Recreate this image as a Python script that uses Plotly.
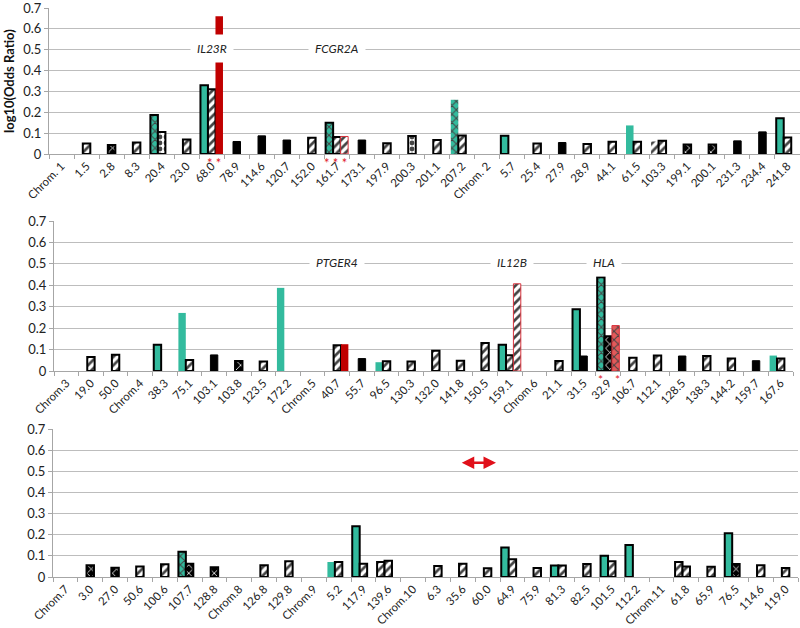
import plotly.graph_objects as go

# ---------------- data ----------------
CATS1 = ["Chrom. 1", "1.5", "2.8", "8.3", "20.4", "23.0", "68.0", "78.9", "114.6", "120.7",
         "152.0", "161.7", "173.1", "197.9", "200.3", "201.1", "207.2", "Chrom. 2", "5.7", "25.4",
         "27.9", "28.9", "44.1", "61.5", "103.3", "199.1", "200.1", "231.3", "234.4", "241.8"]
TEAL1 = [None, None, None, None, 0.187, None, 0.33, None, None, None,
         None, 0.15, None, None, None, None, 0.26, None, 0.087, None,
         None, None, None, 0.137, 0.06, None, None, None, None, 0.171]
BLACK1 = [None, 0.05, 0.043, 0.055, 0.106, 0.07, 0.31, 0.06, 0.087, 0.067,
          0.078, 0.081, 0.067, 0.051, 0.086, 0.067, 0.089, None, None, 0.05,
          0.055, 0.048, 0.059, 0.059, 0.064, 0.045, 0.045, 0.063, 0.106, 0.079]
RED1 = [None] * 6 + [0.66] + [None] * 4 + [0.084] + [None] * 18

CATS2 = ["Chrom.3", "19.0", "50.0", "Chrom.4", "38.3", "75.1", "103.1", "103.8", "123.5", "172.2",
         "Chrom.5", "40.7", "55.7", "96.5", "130.3", "132.0", "141.8", "150.5", "159.1", "Chrom.6",
         "21.1", "31.5", "32.9", "106.7", "112.1", "128.5", "138.3", "144.2", "159.7", "167.6"]
TEAL2 = [None, None, None, None, 0.122, 0.271, None, None, None, 0.388,
         None, None, None, 0.041, None, None, None, None, 0.123, None,
         None, 0.288, 0.437, None, None, None, None, None, None, 0.072]
BLACK2 = [None, 0.065, 0.076, None, None, 0.051, 0.075, 0.047, 0.044, None,
          None, 0.12, 0.058, 0.045, 0.044, 0.094, 0.048, 0.131, 0.073, None,
          0.047, 0.07, 0.162, 0.062, 0.072, 0.07, 0.07, 0.058, 0.048, 0.058]
RED2 = [None] * 11 + [0.125] + [None] * 6 + [0.407] + [None] * 3 + [0.212] + [None] * 7

CATS3 = ["Chrom.7", "3.0", "27.0", "50.6", "100.6", "107.7", "128.8", "Chrom.8", "126.8", "129.8",
         "Chrom.9", "5.2", "117.9", "139.6", "Chrom.10", "6.3", "35.6", "60.0", "64.9", "75.9",
         "81.3", "82.5", "101.5", "112.2", "Chrom.11", "61.8", "65.9", "76.5", "114.6", "119.0"]
TEAL3 = [None, None, None, None, None, 0.12, None, None, None, None,
         None, 0.071, 0.24, 0.071, None, None, None, None, 0.14, None,
         0.054, None, 0.101, 0.151, None, 0.071, None, 0.207, None, None]
BLACK3 = [None, 0.055, 0.044, 0.05, 0.06, 0.063, 0.046, None, 0.055, 0.074,
          None, 0.071, 0.063, 0.077, None, 0.052, 0.063, 0.041, 0.084, 0.043,
          0.054, 0.062, 0.074, None, None, 0.05, 0.049, 0.062, 0.055, 0.043]
RED3 = [None] * 30

# ---------------- styles (separate from data) ----------------
# codes: s=solid, so=solid outlined, h=hatch, ho=hatch outlined, x=cross, xo=cross outlined, d=dots
TEAL_STYLE1 = {4: "xo", 6: "so", 11: "xo", 16: "x", 18: "so", 23: "s", 24: "h", 29: "so"}
BLACK_STYLE1 = {2: "x", 4: "d", 7: "s", 8: "s", 9: "s", 12: "s", 14: "d", 20: "s",
                25: "x", 26: "x", 27: "s", 28: "s"}
RED_STYLE1 = {6: "s", 11: "h"}
TEAL_STYLE2 = {4: "so", 5: "s", 9: "s", 13: "s", 18: "so", 21: "so", 22: "xo", 29: "s"}
BLACK_STYLE2 = {6: "s", 7: "x", 12: "s", 21: "s", 22: "x", 25: "s", 28: "s"}
RED_STYLE2 = {11: "s", 18: "h", 22: "x"}
TEAL_STYLE3 = {5: "xo", 11: "s", 12: "so", 13: "ho", 18: "so", 20: "so", 22: "so",
               23: "so", 25: "ho", 27: "so"}
BLACK_STYLE3 = {1: "x", 2: "x", 5: "x", 6: "x", 27: "x"}
RED_STYLE3 = {}

TEAL = "#33BB9E"
BLACK = "#000000"
RED = "#C00000"
RED_LIGHT = "#D8323C"
RED_PINK = "#E25A5A"


def style(series, code):
    # returns bg, shape, fg, solidity, line color, line width
    if series == "teal":
        base = TEAL
        if code == "s":
            return base, "", base, 0.3, base, 0
        if code == "so":
            return base, "", base, 0.3, BLACK, 2
        if code == "x":
            return base, "x", "#E8FFF8", 0.3, base, 0
        if code == "xo":
            return base, "x", "#E8FFF8", 0.3, BLACK, 2
        if code == "h":
            return "#FFFFFF", "/", base, 0.45, base, 0
        if code == "ho":
            return "#FFFFFF", "/", base, 0.45, BLACK, 2
    if series == "black":
        if code == "s":
            return BLACK, "", BLACK, 0.3, BLACK, 1
        if code == "x":
            return BLACK, "x", "#FFFFFF", 0.25, BLACK, 2
        if code == "d":
            return "#FFFFFF", ".", BLACK, 0.5, BLACK, 2
        return "#FFFFFF", "/", BLACK, 0.45, BLACK, 2
    if series == "red":
        if code == "s":
            return RED, "", RED, 0.3, RED, 0
        if code == "x":
            return RED_PINK, "x", "#FFD0D0", 0.3, RED_LIGHT, 1
        return "#FFFFFF", "/", RED_LIGHT, 0.45, RED_LIGHT, 1
    return BLACK, "", BLACK, 0.3, BLACK, 0


def bar_trace(cats, vals, styles, series, default, xa, ya):
    bgs, shapes, fgs, sols, lcs, lws = [], [], [], [], [], []
    for i, v in enumerate(vals):
        code = styles.get(i, default)
        bg, sh, fg, so, lc, lw = style(series, code)
        bgs.append(bg); shapes.append(sh); fgs.append(fg); sols.append(so)
        lcs.append(lc); lws.append(lw)
    return go.Bar(
        x=cats, y=vals, xaxis=xa, yaxis=ya, showlegend=False, hoverinfo="x+y",
        marker=dict(color=bgs, line=dict(color=lcs, width=lws),
                    pattern=dict(shape=shapes, fgcolor=fgs, fgopacity=1,
                                 solidity=sols, size=6, fillmode="overlay")),
    )


fig = go.Figure()
panels = [
    (CATS1, TEAL1, BLACK1, RED1, TEAL_STYLE1, BLACK_STYLE1, RED_STYLE1, "x", "y"),
    (CATS2, TEAL2, BLACK2, RED2, TEAL_STYLE2, BLACK_STYLE2, RED_STYLE2, "x2", "y2"),
    (CATS3, TEAL3, BLACK3, RED3, TEAL_STYLE3, BLACK_STYLE3, RED_STYLE3, "x3", "y3"),
]
for cats, t, b, r, ts, bs, rs, xa, ya in panels:
    fig.add_trace(bar_trace(cats, t, ts, "teal", "s", xa, ya))
    fig.add_trace(bar_trace(cats, b, bs, "black", "h", xa, ya))
    fig.add_trace(bar_trace(cats, r, rs, "red", "s", xa, ya))

FONT = "Lato, 'Open Sans', sans-serif"
GRID = "#BDBDBD"
H = 628.0
W = 800.0


def xax(x0, x1, anchor, cats):
    return dict(domain=[x0 / W, x1 / W], anchor=anchor, type="category",
                categoryorder="array", categoryarray=cats,
                range=[-0.5, len(cats) - 0.5], automargin=False,
                showline=True, linecolor="#A6A6A6", linewidth=1,
                ticks="outside", tickson="boundaries", ticklen=4, tickcolor="#A6A6A6",
                tickangle=-45, tickfont=dict(family=FONT, size=11.5, color="#222222"),
                showgrid=False, zeroline=False, fixedrange=True,
                ticklabeloverflow="allow")


def yax(ytop, ybot, anchor):
    return dict(domain=[(H - ybot) / H, (H - ytop) / H], anchor=anchor, automargin=False,
                range=[0, 0.7], dtick=0.1, showgrid=True, gridcolor=GRID, gridwidth=1,
                showline=True, linecolor="#A6A6A6", ticks="outside", ticklen=4,
                tickcolor="#A6A6A6", zeroline=False, ticklabeloverflow="allow",
                tickfont=dict(family=FONT, size=13, color="#222222"), fixedrange=True)


fig.update_layout(
    width=800, height=628, margin=dict(l=0, r=0, t=0, b=0, autoexpand=False),
    paper_bgcolor="white", plot_bgcolor="white",
    barmode="group", bargap=0.1, bargroupgap=0,
    font=dict(family=FONT, size=12, color="#222222"),
    xaxis=xax(49, 800, "y", CATS1), yaxis=yax(8, 154, "x"),
    xaxis2=xax(54, 793, "y2", CATS2), yaxis2=yax(221, 371, "x2"),
    xaxis3=xax(53, 798, "y3", CATS3), yaxis3=yax(429, 577, "x3"),
)

ann = []


def gene(text, cats, cat, xref, yref, xshift=0):
    ann.append(dict(text="<i>" + text + "</i>", x=cats.index(cat), y=0.505,
                    xref=xref, yref=yref,
                    showarrow=False, bgcolor="white", borderpad=6, xshift=xshift,
                    font=dict(family=FONT, size=12, color="#222222")))


gene("IL23R", CATS1, "68.0", "x", "y")
gene("FCGR2A", CATS1, "161.7", "x", "y")
gene("PTGER4", CATS2, "40.7", "x2", "y2")
gene("IL12B", CATS2, "159.1", "x2", "y2", 2)
gene("HLA", CATS2, "32.9", "x2", "y2", -4)


def stars(text, cats, cat, xref, yref, xshift=0, size=12):
    ann.append(dict(text=text, x=cats.index(cat), y=0, xref=xref, yref=yref, yanchor="top",
                    showarrow=False, xshift=xshift, yshift=1,
                    font=dict(family=FONT, size=size, color="#E0202A")))


stars("* *", CATS1, "68.0", "x", "y", 2, 13)
stars("* * *", CATS1, "161.7", "x", "y", -1, 13)
stars("*", CATS2, "32.9", "x2", "y2", -8, 12)
stars("*", CATS2, "32.9", "x2", "y2", 9, 12)

# red double-headed arrow in the bottom panel
ann.append(dict(x=17.34, y=0.54, ax=15.9, ay=0.54, xref="x3", yref="y3",
                axref="x3", ayref="y3", text="", showarrow=True,
                arrowhead=2, arrowside="end+start", arrowsize=1,
                arrowwidth=2.5, arrowcolor="#E0101A"))

# y-axis title
ann.append(dict(text="<b>log10(Odds Ratio)</b>", x=9 / W, y=(H - 81) / H,
                xref="paper", yref="paper", showarrow=False, textangle=-90,
                xanchor="center", yanchor="middle",
                font=dict(family=FONT, size=13, color="#111111")))

fig.update_layout(annotations=ann)
fig.write_html("out.html", config={"displayModeBar": False},
               post_script="document.body.style.margin='0';document.body.style.padding='0';")
